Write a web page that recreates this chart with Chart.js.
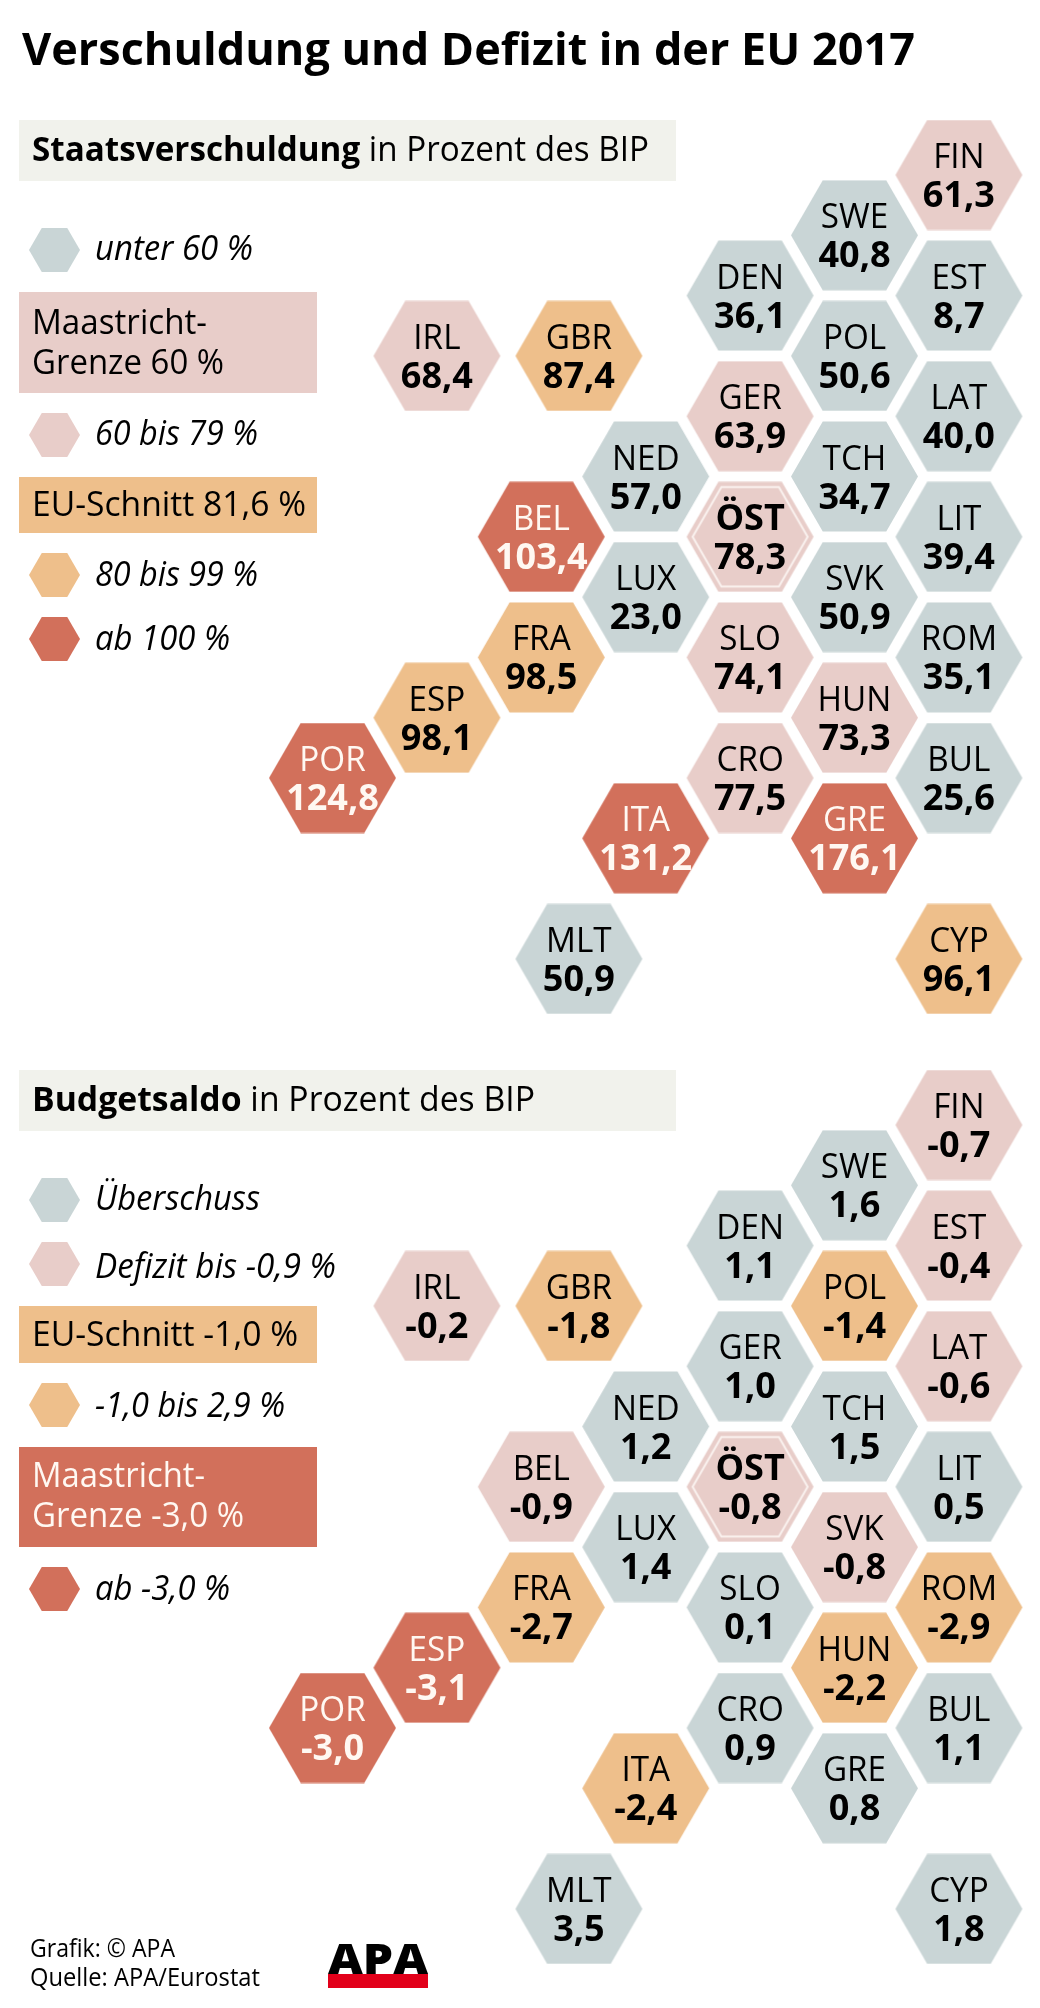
<!DOCTYPE html>
<html lang="de">
<head>
<meta charset="utf-8">
<title>Verschuldung und Defizit in der EU 2017</title>
<script src="https://cdn.jsdelivr.net/npm/chart.js@4"></script>
<style>
  html, body { margin: 0; padding: 0; background: #fff; }
  #page { position: relative; width: 1040px; height: 2008px; overflow: hidden; font-family: "Open Sans", sans-serif; color: #000; }
  canvas { position: absolute; left: 0; }
  .txt { position: absolute; white-space: nowrap; transform-origin: left center; }
  .box { position: absolute; left: 19px; width: 298px; }
  .hex { position: absolute; left: 29px; width: 51px; height: 44px; clip-path: polygon(0 50%, 25% 0, 75% 0, 100% 50%, 75% 100%, 25% 100%); }
</style>
</head>
<body>
<div id="page">
  <canvas id="debt-chart" width="1040" height="1050" style="top:0"></canvas>
  <canvas id="budget-chart" width="1040" height="1058" style="top:950px"></canvas>
</div>
<script>
// Country tiles, same order in all arrays
const countries = ['FIN', 'SWE', 'DEN', 'EST', 'POL', 'IRL', 'GBR', 'GER', 'LAT', 'NED', 'TCH', 'BEL', 'ÖST', 'LIT',
  'LUX', 'SVK', 'FRA', 'SLO', 'ROM', 'ESP', 'HUN', 'POR', 'CRO', 'BUL', 'ITA', 'GRE', 'MLT', 'CYP'];
// tile grid of the map (column from the west, half rows from the north)
const gridCol = [6, 5, 4, 6, 5, 1, 2.36, 4, 6, 3, 5, 2, 4, 6, 3, 5, 2, 4, 6, 1, 5, 0, 4, 6, 3, 5, 2.36, 6];
const gridRow = [0, 1, 2, 2, 3, 3, 3, 4, 4, 5, 5, 6, 6, 6, 7, 7, 8, 8, 8, 9, 9, 10, 10, 10, 11, 11, 13, 13];

const debtValues = [61.3, 40.8, 36.1, 8.7, 50.6, 68.4, 87.4, 63.9, 40.0, 57.0, 34.7, 103.4, 78.3, 39.4,
  23.0, 50.9, 98.5, 74.1, 35.1, 98.1, 73.3, 124.8, 77.5, 25.6, 131.2, 176.1, 50.9, 96.1];
const budgetValues = [-0.7, 1.6, 1.1, -0.4, -1.4, -0.2, -1.8, 1.0, -0.6, 1.2, 1.5, -0.9, -0.8, 0.5,
  1.4, -0.8, -2.7, 0.1, -2.9, -3.1, -2.2, -3.0, 0.9, 1.1, -2.4, 0.8, 3.5, 1.8];

const GREY = '#c9d5d6', PINK = '#e8cdc9', ORANGE = '#eebf8b', RED = '#d2705b';
const FONT = '"Open Sans", sans-serif';
const debtColor = (v) => v < 60 ? GREY : v < 80 ? PINK : v < 100 ? ORANGE : RED;
const budgetColor = (v) => v > 0 ? GREY : v > -1 ? PINK : v > -3 ? ORANGE : RED;

// hexagon sprite for pointStyle, the library places it at the scaled point
function hexSprite(color, ring) {
  const R = 63.5;
  const c = document.createElement('canvas');
  c.width = 2 * R + 2;
  c.height = 2 * R * 0.866 + 2;
  const ctx = c.getContext('2d');
  const path = (r) => {
    ctx.beginPath();
    for (let i = 0; i < 6; i++) {
      const a = i * Math.PI / 3;
      ctx.lineTo(c.width / 2 + r * Math.cos(a), c.height / 2 + r * Math.sin(a));
    }
    ctx.closePath();
  };
  path(R);
  ctx.fillStyle = color;
  ctx.fill();
  if (ring) {
    path(R - 6);
    ctx.strokeStyle = '#fbf3f0';
    ctx.lineWidth = 2;
    ctx.stroke();
  }
  return c;
}

const sprites = new Map();
const getSprite = (color, ring) => {
  const key = color + ring;
  if (!sprites.has(key)) sprites.set(key, hexSprite(color, ring));
  return sprites.get(key);
};

const tileLabels = {
  id: 'tileLabels',
  afterDatasetsDraw(chart) {
    const ctx = chart.ctx;
    const values = chart.data.datasets[0].values;
    const colors = chart.data.datasets[0].tileColors;
    ctx.save();
    ctx.textAlign = 'center';
    ctx.textBaseline = 'alphabetic';
    chart.getDatasetMeta(0).data.forEach((pt, i) => {
      const home = countries[i] === 'ÖST';
      ctx.fillStyle = colors[i] === RED ? '#fff8f2' : '#000';
      ctx.font = (home ? 'bold ' : '') + '35px ' + FONT;
      ctx.save();
      ctx.translate(pt.x, pt.y - 7);
      ctx.scale(home ? 1.03 : 0.95, 1);
      ctx.fillText(countries[i], 0, 0);
      ctx.restore();
      ctx.font = 'bold 35px ' + FONT;
      ctx.save();
      ctx.translate(pt.x, pt.y + 32);
      ctx.scale(1.03, 1);
      ctx.fillText(values[i].toFixed(1).replace('.', ','), 0, 0);
      ctx.restore();
    });
    ctx.restore();
  }
};

function createHexChart(canvasId, values, colorFor) {
  const canvas = document.getElementById(canvasId);
  const colors = values.map(colorFor);
  return new Chart(canvas.getContext('2d'), {
    type: 'scatter',
    data: {
      datasets: [{
        data: countries.map((c, i) => ({ x: gridCol[i], y: gridRow[i] })),
        values: values,
        tileColors: colors,
        pointStyle: colors.map((col, i) => getSprite(col, countries[i] === 'ÖST')),
        clip: false
      }]
    },
    options: {
      responsive: false,
      animation: false,
      layout: { padding: 0, autoPadding: false },
      scales: {
        x: { type: 'linear', display: false, min: -332.5 / 104.4, max: (1040 - 332.5) / 104.4 },
        y: { type: 'linear', display: false, reverse: true, min: -175 / 60.3, max: (canvas.height - 175) / 60.3 }
      },
      plugins: { legend: { display: false }, tooltip: { enabled: false } }
    },
    plugins: [tileLabels]
  });
}

createHexChart('debt-chart', debtValues, debtColor);
createHexChart('budget-chart', budgetValues, budgetColor);

// Title, headers, legends and footer are plain page text
const page = document.getElementById('page');

function addText(html, x, baseline, size, width, style) {
  const el = document.createElement('div');
  el.className = 'txt';
  el.innerHTML = html;
  el.style.left = x + 'px';
  el.style.top = (baseline - 0.888 * size) + 'px';
  el.style.fontSize = size + 'px';
  el.style.lineHeight = size + 'px';
  Object.assign(el.style, style || {});
  page.appendChild(el);
  el.style.transform = `scaleX(${width / el.getBoundingClientRect().width})`;
}
function addBox(top, bottom, color, right) {
  const el = document.createElement('div');
  el.className = 'box';
  el.style.top = top + 'px';
  el.style.height = (bottom - top) + 'px';
  el.style.background = color;
  if (right) el.style.width = (right - 19) + 'px';
  page.insertBefore(el, page.firstChild);
}
function addSwatch(center, color, label, baseline, width) {
  const el = document.createElement('div');
  el.className = 'hex';
  el.style.top = (center - 22) + 'px';
  el.style.background = color;
  page.appendChild(el);
  addText(label, 95, baseline, 34, width, { fontStyle: 'italic' });
}

addText('Verschuldung und Defizit in der EU 2017', 22, 65, 45, 893, { fontWeight: 700 });

addBox(120, 181, '#f1f2ec', 676);
addText('<b>Staatsverschuldung</b> in Prozent des BIP', 32, 161, 34, 617);
addSwatch(250, GREY, 'unter 60 %', 260, 158);
addBox(292, 393, PINK);
addText('Maastricht-', 32, 334, 34, 175);
addText('Grenze 60 %', 32, 374, 34, 192);
addSwatch(435, PINK, '60 bis 79 %', 445, 163);
addBox(477, 533, ORANGE);
addText('EU-Schnitt 81,6 %', 32, 516, 34, 274);
addSwatch(575, ORANGE, '80 bis 99 %', 586, 163);
addSwatch(639, RED, 'ab 100 %', 650, 135);

addBox(1070, 1131, '#f1f2ec', 676);
addText('<b>Budgetsaldo</b> in Prozent des BIP', 32, 1111, 34, 503);
addSwatch(1200, GREY, 'Überschuss', 1210, 165);
addSwatch(1264, PINK, 'Defizit bis -0,9 %', 1278, 241);
addBox(1306, 1363, ORANGE);
addText('EU-Schnitt -1,0 %', 32, 1346, 34, 266);
addSwatch(1405, ORANGE, '-1,0 bis 2,9 %', 1417, 190);
addBox(1447, 1547, RED);
addText('Maastricht-', 32, 1487, 34, 173, { color: '#fff8f2' });
addText('Grenze -3,0 %', 32, 1527, 34, 212, { color: '#fff8f2' });
addSwatch(1589, RED, 'ab -3,0 %', 1600, 135);

addText('Grafik: © APA', 30, 1957, 26, 145);
addText('Quelle: APA/Eurostat', 30, 1986, 26, 230);

addBox(1974, 1988, '#e2001a', 428);
page.firstChild.style.left = '328px';
page.firstChild.style.width = '100px';
addText('APA', 328, 1974, 42, 100, { fontWeight: 800 });
</script>
</body>
</html>
